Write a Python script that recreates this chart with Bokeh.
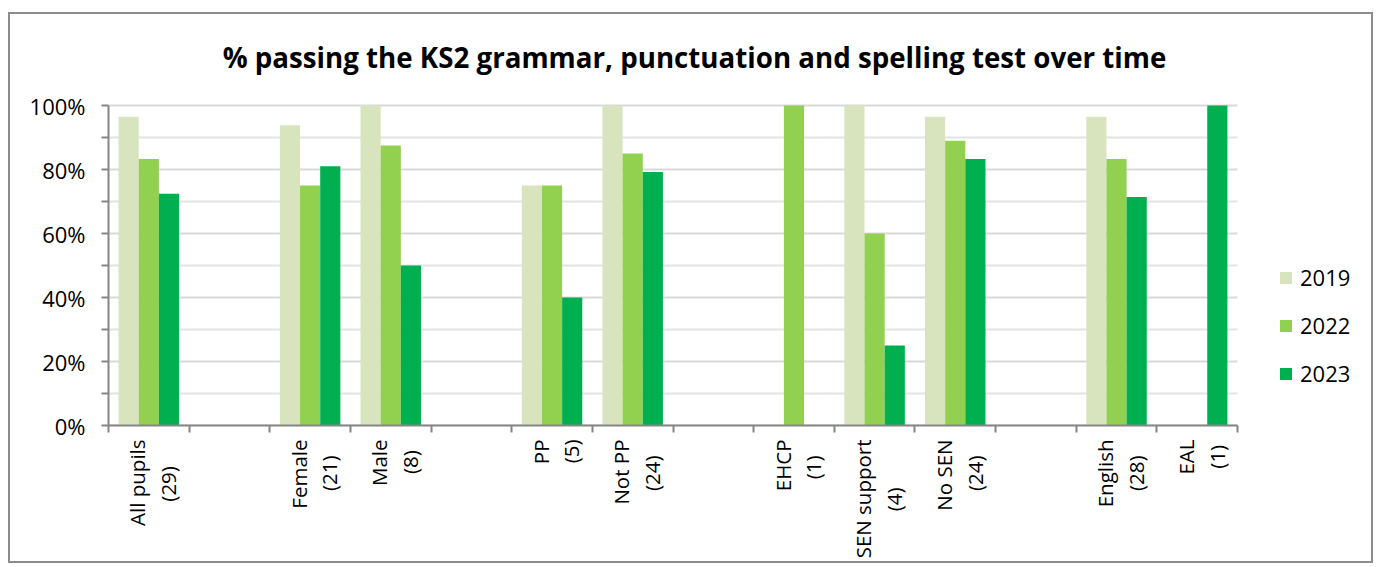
import math
import numpy as np
from bokeh.plotting import figure
from bokeh.models import (Range1d, LinearAxis, FixedTicker, CustomJSTickFormatter,
                          PrintfTickFormatter, Legend, LegendItem, Label)
from bokeh.embed import file_html
from bokeh.resources import INLINE

# ---- data ----
title_text = "% passing the KS2 grammar, punctuation and spelling test over time"
category_names = ["All pupils", "", "Female", "Male", "", "PP", "Not PP", "",
                  "EHCP", "SEN support", "No SEN", "", "English", "EAL"]
category_counts = ["(29)", "", "(21)", "(8)", "", "(5)", "(24)", "",
                   "(1)", "(4)", "(24)", "", "(28)", "(1)"]
series_names = ["2019", "2022", "2023"]
nan = float("nan")
v2019 = [96.5, nan, 93.8, 100, nan, 75, 100, nan, nan, 100, 96.5, nan, 96.5, nan]
v2022 = [83.3, nan, 75, 87.5, nan, 75, 85, nan, 100, 60, 89, nan, 83.3, nan]
v2023 = [72.4, nan, 81, 50, nan, 40, 79.2, nan, nan, 25, 83.3, nan, 71.4, 100]
colors = ["#D7E4BD", "#92D050", "#00B050"]
y_ticks = [0, 20, 40, 60, 80, 100]
y_minor = [10, 30, 50, 70, 90]

FONT = "Open Sans"
n = len(category_names)

# approximate Open Sans advance widths (em/1000) used to centre the two label lines
_W = {" ": 260, "(": 296, ")": 296, "A": 633, "E": 556, "H": 738, "C": 632, "P": 603,
      "S": 549, "N": 754, "L": 519, "M": 907, "F": 532, "a": 556, "e": 561, "i": 258,
      "l": 258, "m": 861, "n": 613, "o": 601, "p": 613, "r": 408, "s": 479, "t": 352,
      "u": 613, "g": 549, "h": 613}


def _w(s):
    return sum(_W.get(c, 572) for c in s)


def two_line(a, b):
    if not a:
        return ""
    nb = "\u00a0"
    wa, wb = _w(a), _w(b)
    if wa > wb:
        b = b + nb * int(round((wa - wb) / 2 / 260))
    else:
        a = a + nb * int(round((wb - wa) / 2 / 260))
    return a + "\n" + b


labels = [two_line(a, b) for a, b in zip(category_names, category_counts)]

# ---- layout (pixels) ----
W, H = 1365, 551
ML, MR, MT, MB = 98, 2, 2, 140
frame_w = W - ML - MR
frame_h = H - MT - MB
PX_SLOT = 1129 / n          # width of one category slot
PX_PCT = 320 / 100          # height of one percentage point

p = figure(width=W, height=H,
           x_range=Range1d(0, frame_w / PX_SLOT), y_range=Range1d(0, frame_h / PX_PCT),
           output_backend="svg", toolbar_location=None, x_axis_type=None, y_axis_type=None,
           min_border_left=ML, min_border_right=MR, min_border_top=MT, min_border_bottom=MB)
p.styles = {"border": "2px solid #8c8c8c", "margin": "12px 0px 0px 8px"}
p.outline_line_color = None
p.xgrid.visible = False
p.ygrid.visible = False

# gridlines from the tick values
p.segment(x0=0, x1=n, y0=y_minor, y1=y_minor, line_color="#E3E3E3", line_width=2)
p.segment(x0=0, x1=n, y0=y_ticks, y1=y_ticks, line_color="#D9D9D9", line_width=2)

# y axis
yaxis = LinearAxis(ticker=FixedTicker(ticks=y_ticks, minor_ticks=y_minor),
                   formatter=PrintfTickFormatter(format="%d%%"), bounds=(0, 100))
yaxis.major_label_text_font = FONT
yaxis.major_label_text_font_size = "22px"
yaxis.major_label_text_color = "#000000"
yaxis.axis_line_color = "#868686"
yaxis.axis_line_width = 2
yaxis.major_tick_line_color = "#868686"
yaxis.major_tick_line_width = 2
yaxis.minor_tick_line_color = "#868686"
yaxis.minor_tick_line_width = 2
yaxis.major_tick_in = 0
yaxis.major_tick_out = 7
yaxis.minor_tick_in = 0
yaxis.minor_tick_out = 7
yaxis.major_label_standoff = 16
p.add_layout(yaxis, "left")

# bars
offsets = [-0.25, 0.0, 0.25]
centers = np.arange(n) + 0.5
items = []
for name, vals, col, off in zip(series_names, [v2019, v2022, v2023], colors, offsets):
    r = p.vbar(x=centers + off, top=vals, bottom=0, width=0.25, fill_color=col,
               line_color=None)
    items.append(LegendItem(label=name, renderers=[r]))

# x axis with ticks at category boundaries
xtick_axis = LinearAxis(ticker=FixedTicker(ticks=list(range(n + 1)), minor_ticks=[]),
                        bounds=(0, n))
xtick_axis.major_label_text_font_size = "0px"
xtick_axis.major_label_text_alpha = 0
xtick_axis.major_label_standoff = 0
xtick_axis.axis_line_color = "#868686"
xtick_axis.axis_line_width = 2
xtick_axis.major_tick_line_color = "#868686"
xtick_axis.major_tick_line_width = 2
xtick_axis.major_tick_in = 0
xtick_axis.major_tick_out = 7
p.add_layout(xtick_axis, "below")

# x axis with category labels at centres (nudged slightly right, as in the original)
label_pos = list(centers + 4 / PX_SLOT)
xlab_axis = LinearAxis(ticker=FixedTicker(ticks=label_pos, minor_ticks=[]),
                       formatter=CustomJSTickFormatter(args=dict(labels=labels),
                                                       code="return labels[Math.floor(tick)];"))
xlab_axis.axis_line_color = None
xlab_axis.major_tick_line_color = None
xlab_axis.major_label_orientation = math.pi / 2
xlab_axis.major_label_text_font = FONT
xlab_axis.major_label_text_font_size = "20.5px"
xlab_axis.major_label_text_line_height = 1.1
xlab_axis.major_label_text_color = "#000000"
xlab_axis.major_label_standoff = 1
p.add_layout(xlab_axis, "below")

# title inside the (extended) frame
title = Label(x=586, y=369, x_units="screen", y_units="screen", text=title_text,
              text_font=FONT, text_font_size="27.7px", text_font_style="bold",
              text_color="#000000", text_align="center", text_baseline="middle")
p.add_layout(title)

legend = Legend(items=items, location=(1170, 37), orientation="vertical")
legend.label_text_font = FONT
legend.label_text_font_size = "22px"
legend.label_text_color = "#000000"
legend.glyph_width = 15
legend.glyph_height = 15
legend.label_height = 24
legend.spacing = 18
legend.label_standoff = 7
legend.padding = 0
legend.margin = 0
legend.border_line_color = None
legend.background_fill_alpha = 0
p.add_layout(legend, "center")

open("out.html", "w").write(file_html(p, INLINE))
